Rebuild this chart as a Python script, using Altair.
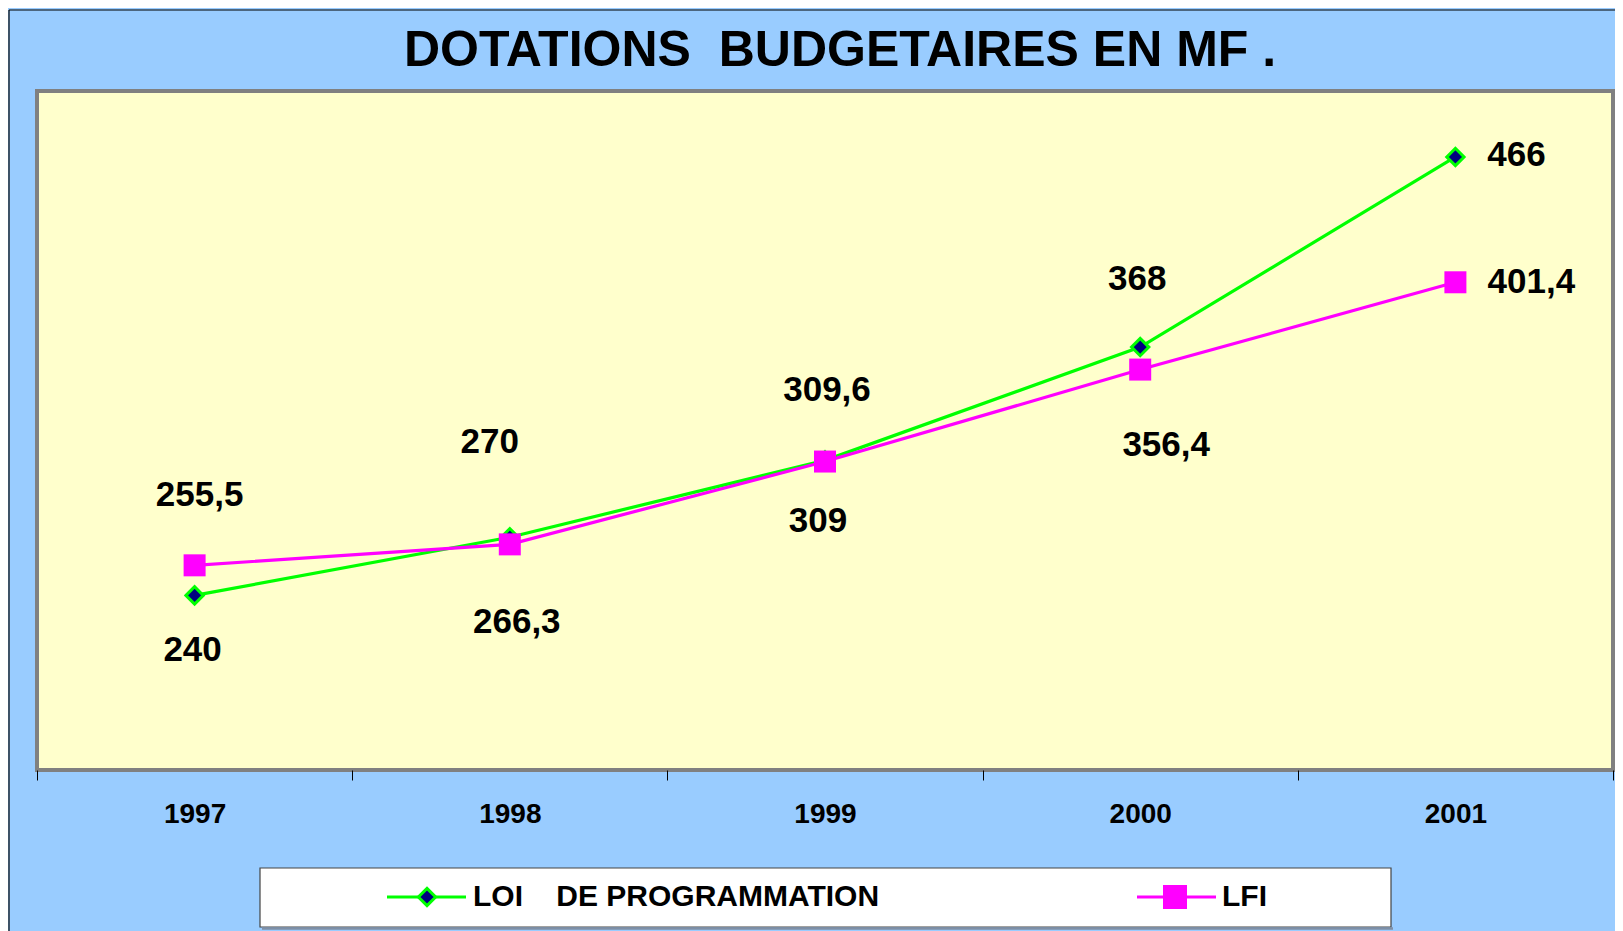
import altair as alt
import pandas as pd

# ---- data ----
YEARS = ["1997", "1998", "1999", "2000", "2001"]
SERIES = ["LOI    DE PROGRAMMATION", "LFI"]
LOI = [240, 270, 309.6, 368, 466]
LFI = [255.5, 266.3, 309, 356.4, 401.4]
TITLE = "DOTATIONS  BUDGETAIRES EN MF ."

# label offsets (pixels) for the hand-placed data labels
LOI_OFFSETS = [(-2, 55), (-20, -95), (2, -70), (-3, -68), (61, -2)]
LFI_OFFSETS = [(5, -70), (7, 78), (-7, 59), (26, 75), (76, 0)]


def fmt(v):
    s = f"{v:g}"
    return s.replace(".", ",")


rows = []
for s, vals in zip(SERIES, [LOI, LFI]):
    for y, v in zip(YEARS, vals):
        rows.append({"year": y, "series": s, "value": v, "label": fmt(v)})
df = pd.DataFrame(rows)

FONT = "Liberation Sans"
W, H = 1576, 679
GREEN, MAGENTA, NAVY = "#00FF00", "#FF00FF", "#000080"

x_enc = alt.X(
    "year:N",
    sort=YEARS,
    scale=alt.Scale(type="band", paddingInner=0, paddingOuter=0),
    axis=alt.Axis(
        title=None, labelAngle=0, tickBand="extent", domain=False, grid=False,
        ticks=True, tickColor="black", tickWidth=1, tickSize=10,
        labelFont=FONT, labelFontSize=28, labelFontWeight="bold",
        labelColor="black", labelBaseline="middle", labelPadding=34,
    ),
)
y_enc = alt.Y("value:Q", scale=alt.Scale(domain=[150, 500], nice=False, zero=False), axis=None)

base = alt.Chart(df)
one = pd.DataFrame({"k": [0]})
layers = []

# outer black frame lines
layers.append(alt.Chart(one).mark_rule(color="black", strokeWidth=1.2).encode(
    x=alt.value(-28), y=alt.value(-81), y2=alt.value(900)))
layers.append(alt.Chart(one).mark_rule(color="black", strokeWidth=1.2).encode(
    x=alt.value(-28), x2=alt.value(1700), y=alt.value(-81)))

# chart title (as a text mark above the plot)
layers.append(alt.Chart(one).mark_text(text=TITLE.replace(" ", "\u00a0"), font=FONT,
                                       fontSize=50, fontWeight="bold", color="black",
                                       align="center", baseline="alphabetic").encode(
    x=alt.value(W / 2 + 15), y=alt.value(-25)))

# series lines + markers (LOI first, LFI on top)
loi = base.transform_filter(alt.datum.series == SERIES[0])
lfi = base.transform_filter(alt.datum.series == SERIES[1])
layers.append(loi.mark_line(color=GREEN, strokeWidth=3.2).encode(x=x_enc, y=y_enc))
layers.append(loi.mark_point(shape="diamond", filled=True, fill=NAVY, stroke=GREEN,
                             strokeWidth=3, size=300, opacity=1).encode(x=x_enc, y=y_enc))
layers.append(lfi.mark_line(color=MAGENTA, strokeWidth=3.2).encode(x=x_enc, y=y_enc))
layers.append(lfi.mark_point(shape="square", filled=True, fill=MAGENTA, stroke=MAGENTA,
                             strokeWidth=0, size=484, opacity=1).encode(x=x_enc, y=y_enc))

# data labels
for s, offs in zip(SERIES, [LOI_OFFSETS, LFI_OFFSETS]):
    for yr, (dx, dy) in zip(YEARS, offs):
        layers.append(
            base.transform_filter((alt.datum.series == s) & (alt.datum.year == yr))
            .mark_text(dx=dx, dy=dy, font=FONT, fontSize=35, fontWeight="bold",
                       color="black", align="center", baseline="middle")
            .encode(x=x_enc, y=y_enc, text="label:N")
        )

# legend (drawn by hand, below the plot)
layers.append(alt.Chart(one).mark_rect(fill="white", stroke="#444444", strokeWidth=1.2).encode(
    x=alt.value(223), x2=alt.value(1354), y=alt.value(777), y2=alt.value(836)))
layers.append(alt.Chart(one).mark_rule(color="#7f8fa6", strokeWidth=2.5).encode(
    x=alt.value(225), x2=alt.value(1356), y=alt.value(837.5)))
layers.append(alt.Chart(one).mark_rule(color=GREEN, strokeWidth=3).encode(
    x=alt.value(350), x2=alt.value(429), y=alt.value(806)))
layers.append(alt.Chart(one).mark_point(shape="diamond", filled=True, fill=NAVY, stroke=GREEN,
                                        strokeWidth=3, size=300, opacity=1).encode(
    x=alt.value(390), y=alt.value(806)))
layers.append(alt.Chart(one).mark_text(text=SERIES[0].replace(" ", "\u00a0"), font=FONT,
                                       fontSize=30, fontWeight="bold", color="black",
                                       align="left", baseline="middle").encode(
    x=alt.value(436), y=alt.value(806)))
layers.append(alt.Chart(one).mark_rule(color=MAGENTA, strokeWidth=3).encode(
    x=alt.value(1100), x2=alt.value(1179), y=alt.value(806)))
layers.append(alt.Chart(one).mark_point(shape="square", filled=True, fill=MAGENTA,
                                        strokeWidth=0, size=576, opacity=1).encode(
    x=alt.value(1138), y=alt.value(806)))
layers.append(alt.Chart(one).mark_text(text=SERIES[1], font=FONT, fontSize=30,
                                       fontWeight="bold", color="black",
                                       align="left", baseline="middle").encode(
    x=alt.value(1185), y=alt.value(806)))

chart = (
    alt.layer(*layers)
    .properties(
        width=W, height=H,
        background="#99CCFF",
        padding={"left": 29, "top": 83, "right": 2, "bottom": 161},
        autosize=alt.AutoSizeParams(type="none"),
    )
    .configure_view(fill="#FFFFCC", stroke="#808080", strokeWidth=4)
)

chart.save("out.html", embed_options={"renderer": "svg", "actions": False})
